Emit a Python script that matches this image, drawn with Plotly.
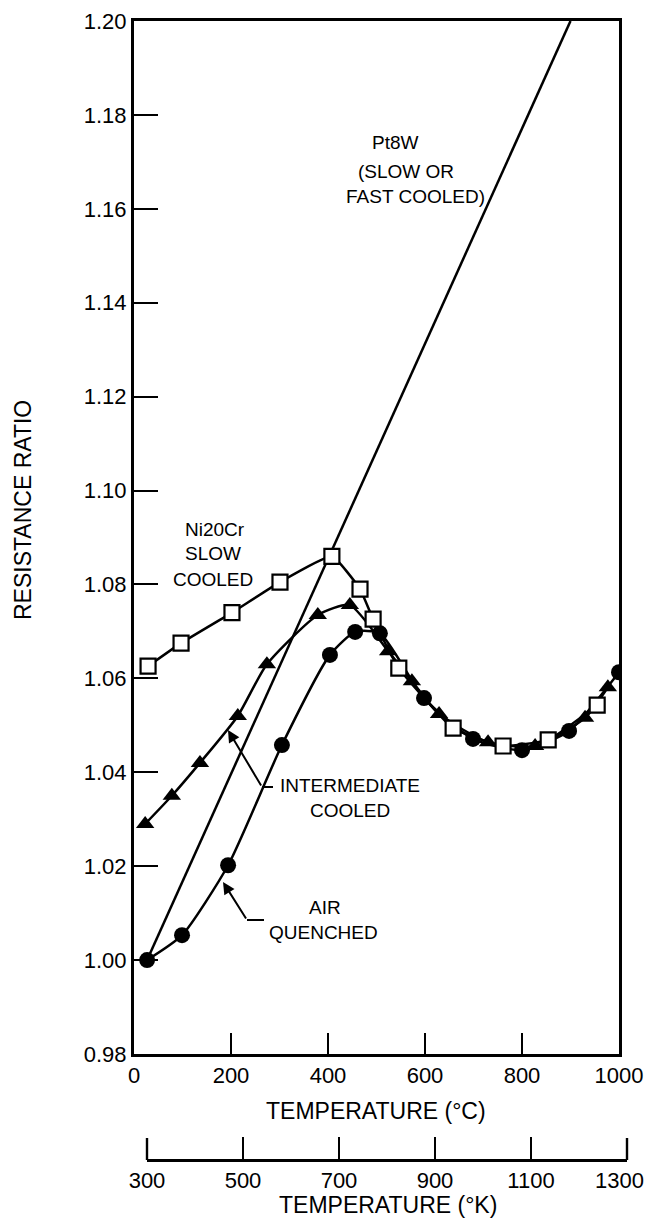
import plotly.graph_objects as go

# ---------------- data ----------------
pt8w_T = [27, 900]
pt8w_R = [1.000, 1.200]

slow_T = [29, 97, 202, 301, 408, 466, 493, 546, 658, 761, 854, 955]
slow_R = [1.0626, 1.0675, 1.0740, 1.0805, 1.0860, 1.0790, 1.0726, 1.0622,
          1.0494, 1.0456, 1.0469, 1.0543]

inter_T = [23, 78, 136, 214, 274, 379, 445, 524, 573, 629, 730, 827, 930, 977]
inter_R = [1.0290, 1.0350, 1.0420, 1.0520, 1.0630, 1.0735, 1.0756, 1.0658,
           1.0594, 1.0524, 1.0464, 1.0456, 1.0516, 1.0581]

air_T = [27, 99, 194, 305, 404, 456, 507, 598, 699, 800, 897, 1000]
air_R = [1.0000, 1.0053, 1.0202, 1.0458, 1.0650, 1.0699, 1.0696, 1.0558,
         1.0471, 1.0447, 1.0488, 1.0613]

c_ticks = [0, 200, 400, 600, 800, 1000]
k_ticks = [300, 500, 700, 900, 1100, 1300]
r_ticks = [0.98, 1.00, 1.02, 1.04, 1.06, 1.08, 1.10, 1.12, 1.14, 1.16, 1.18, 1.20]
r_labels = ["%.2f" % v for v in r_ticks]
k_labels = [str(v) for v in k_ticks]

# ---------------- layout helpers ----------------
# the page body has an 8px default margin, so the figure is drawn 8px in from the corner;
# keep the page from overflowing the window so no scrollbar appears
OFF = 8
W, H = 655 - OFF, 1226 - 2 * OFF
def px(x):
    return (x - OFF) / W
def py(y):
    return 1 - (y - OFF) / H

X0, X1 = 134, 619      # pixel span of 0..1000 C
Y0, Y1 = 21, 1054      # pixel span of 1.20..0.98
K0, K1 = 147, 627      # pixel span of the Kelvin scale line
KY = 1160              # pixel row of the Kelvin scale line
KTICK = 22

FONT = "Liberation Sans, Arial, Helvetica, sans-serif"
LW = 2.5

fig = go.Figure()

fig.add_trace(go.Scatter(x=pt8w_T, y=pt8w_R, mode="lines",
                         line=dict(color="black", width=LW),
                         showlegend=False, hoverinfo="skip"))
fig.add_trace(go.Scatter(x=air_T, y=air_R, mode="lines+markers",
                         line=dict(color="black", width=LW, shape="spline", smoothing=0.6),
                         marker=dict(symbol="circle", size=16, color="black"),
                         showlegend=False))
fig.add_trace(go.Scatter(x=inter_T, y=inter_R, mode="lines+markers",
                         line=dict(color="black", width=LW, shape="spline", smoothing=0.6),
                         marker=dict(symbol="triangle-up", size=16, color="black"),
                         showlegend=False))
fig.add_trace(go.Scatter(x=slow_T, y=slow_R, mode="lines+markers",
                         line=dict(color="black", width=LW, shape="spline", smoothing=0.4),
                         marker=dict(symbol="square", size=15, color="white",
                                     line=dict(color="black", width=2.2)),
                         showlegend=False))
# dummy trace so the Kelvin axis is drawn
fig.add_trace(go.Scatter(x=[k_ticks[0], k_ticks[-1]], y=[None, None], xaxis="x2",
                         yaxis="y", mode="markers", showlegend=False, hoverinfo="skip"))

tickfont = dict(family=FONT, size=22, color="black")

fig.update_layout(
    width=W, height=H,
    margin=dict(l=0, r=0, t=0, b=0),
    paper_bgcolor="white", plot_bgcolor="rgba(0,0,0,0)",
    xaxis=dict(domain=[px(X0), px(X1)], range=[0, 1000],
               tickmode="array", tickvals=c_ticks, ticktext=[str(v) for v in c_ticks],
               ticks="inside", ticklen=21, tickwidth=2, tickcolor="black",
               showline=True, linewidth=2.6, linecolor="black", mirror=True,
               showgrid=False, zeroline=False, tickfont=tickfont, automargin=False,
               ticklabeloverflow="allow"),
    yaxis=dict(domain=[py(Y1), py(Y0)], range=[0.98, 1.20],
               tickmode="array", tickvals=r_ticks, ticktext=r_labels,
               ticks="inside", ticklen=24, tickwidth=2, tickcolor="black",
               showline=True, linewidth=3, linecolor="black", mirror=True,
               showgrid=False, zeroline=False, tickfont=tickfont, automargin=False),
    xaxis2=dict(domain=[px(K0), px(K1)], range=[k_ticks[0], k_ticks[-1]], anchor="free",
                position=py(KY), side="bottom",
                tickmode="array", tickvals=k_ticks,
                ticktext=k_labels[:-1] + [""],   # last label drawn below, kept inside the page
                ticks="inside", ticklen=KTICK, tickwidth=2.4, tickcolor="black",
                showline=True, linewidth=2.6, linecolor="black",
                showgrid=False, zeroline=False, tickfont=tickfont, automargin=False,
                ticklabeloverflow="allow"),
)

# last Kelvin label, right-aligned so it is not cut by the page edge
fig.add_annotation(text=k_labels[-1], x=px(646), y=py(1180), xref="paper", yref="paper",
                   showarrow=False, font=tickfont, xanchor="right", yanchor="middle")

# end ticks of the Kelvin scale (plotly hides inside ticks at the axis ends)
for kx in (K0, K1):
    fig.add_shape(type="line", xref="paper", yref="paper",
                  x0=px(kx), x1=px(kx), y0=py(KY), y1=py(KY - KTICK),
                  line=dict(color="black", width=2.4))

ann_font = dict(family=FONT, size=19, color="black")
labels = [
    ("Pt8W", 395, 143), ("(SLOW OR", 406, 171), ("FAST COOLED)", 416, 197),
    ("Ni20Cr", 215, 529), ("SLOW", 213, 554), ("COOLED", 213, 580),
    ("INTERMEDIATE", 350, 785), ("COOLED", 350, 810),
    ("AIR", 325, 907), ("QUENCHED", 323, 932),
]
for t, x, y in labels:
    fig.add_annotation(text=t, x=px(x), y=py(y), xref="paper", yref="paper",
                       showarrow=False, font=ann_font, xanchor="center", yanchor="middle")

title_font = dict(family=FONT, size=23, color="black")
fig.add_annotation(text="TEMPERATURE (°C)", x=px(376), y=py(1111), xref="paper", yref="paper",
                   showarrow=False, font=title_font, xanchor="center", yanchor="middle")
fig.add_annotation(text="TEMPERATURE (°K)", x=px(388), y=py(1205), xref="paper", yref="paper",
                   showarrow=False, font=title_font, xanchor="center", yanchor="middle")
fig.add_annotation(text="RESISTANCE RATIO", x=px(23), y=py(510), xref="paper", yref="paper",
                   showarrow=False, font=title_font, textangle=-90,
                   xanchor="center", yanchor="middle")

# leader lines with arrows
for (tail_x, tail_y, end_x, tip_x, tip_y) in [(262, 787, 273, 228, 730),
                                              (247, 920, 264, 223, 882)]:
    fig.add_shape(type="line", xref="paper", yref="paper",
                  x0=px(tail_x), y0=py(tail_y), x1=px(end_x), y1=py(tail_y),
                  line=dict(color="black", width=2))
    fig.add_annotation(text="", x=px(tip_x), y=py(tip_y), xref="paper", yref="paper",
                       ax=tail_x - tip_x, ay=tail_y - tip_y, showarrow=True,
                       arrowhead=2, arrowsize=1.2, arrowwidth=2, arrowcolor="black",
                       standoff=0, startstandoff=0)

fig.write_html("out.html")
